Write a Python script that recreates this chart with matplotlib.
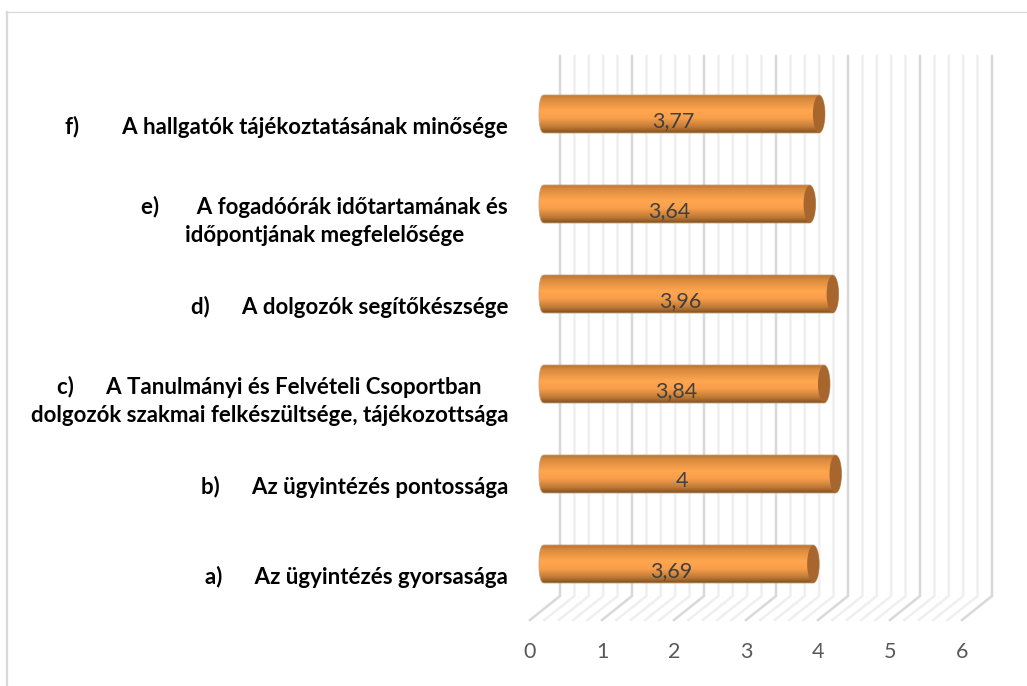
import numpy as np
import matplotlib
matplotlib.use("Agg")
import matplotlib.pyplot as plt
from matplotlib.colors import LinearSegmentedColormap
from matplotlib.lines import Line2D
from matplotlib.patches import Polygon, Ellipse

labels = [
    "a)      Az ügyintézés gyorsasága",
    "b)      Az ügyintézés pontossága",
    "c)      A Tanulmányi és Felvételi Csoportban\ndolgozók szakmai felkészültsége, tájékozottsága",
    "d)      A dolgozók segítőkészsége",
    "e)       A fogadóórák időtartamának és\nidőpontjának megfelelősége",
    "f)        A hallgatók tájékoztatásának minősége",
]
values = [3.69, 4, 3.84, 3.96, 3.64, 3.77]
value_labels = ["3,69", "4", "3,84", "3,96", "3,64", "3,77"]
xticks = [0, 1, 2, 3, 4, 5, 6]

W, H = 1027, 686
plt.rcParams["font.family"] = ["Lato", "DejaVu Sans"]
fig = plt.figure(figsize=(W / 100, H / 100), dpi=100)
ax = fig.add_axes([530 / W, 1 - 620 / H, 432 / W, 540 / H])
for s in ax.spines.values():
    s.set_visible(False)

# frame of the chart area: only the left and top sides show
fig.add_artist(Line2D([7 / W, 7 / W], [0, 1 - 12 / H], transform=fig.transFigure, color="#D9D9D9", lw=1.6))
fig.add_artist(Line2D([6 / W, 1], [1 - 12 / H, 1 - 12 / H], transform=fig.transFigure, color="#D9D9D9", lw=0.9))

PX_X, PX_Y = 1 / 72, 1 / 90
wall_dx, wall_dy = 30 * PX_X, 24 * PX_Y
mid_dx, mid_dy = wall_dx / 2, wall_dy / 2

# wall and floor gridlines
minor = [t / 5 for t in range(0, 31)]
for t in minor:
    major = abs(t - round(t)) < 1e-6
    col, lw = ("#D9D9D9", 1.8) if major else ("#EFEFEF", 1.8)
    ax.plot([t, t + wall_dx, t + wall_dx], [-0.5, -0.5 + wall_dy, 5.5 + wall_dy], color=col, lw=lw,
            clip_on=False, zorder=1, solid_joinstyle="miter")

cmap = LinearSegmentedColormap.from_list("cyl", [
    (0.0, "#B87433"), (0.12, "#D98A3E"), (0.42, "#FFA64F"), (0.62, "#F99F4B"),
    (0.85, "#BF7A37"), (1.0, "#80501F")])
grad = np.linspace(0, 1, 128).reshape(-1, 1)
half_h = 19 * PX_Y
rx = 6 * PX_X
th = np.linspace(-np.pi / 2, np.pi / 2, 40)

for i, (v, lab) in enumerate(zip(values, value_labels)):
    y = i + mid_dy - 1 * PX_Y
    x0, x1 = mid_dx, v + mid_dx + 2.5 * PX_X
    # left rounded end, body and right end of the cylinder
    right = np.c_[x1 + rx * np.cos(th), y + half_h * np.sin(th)]
    left = np.c_[x0 - rx * np.cos(th[::-1]) ** 0.6, y + half_h * np.sin(th[::-1])]
    poly = Polygon(np.r_[right, left], closed=True, fc="none", ec="#C9A27E", lw=0.6, zorder=3, clip_on=False)
    ax.add_patch(poly)
    im = ax.imshow(grad, extent=[x0 - rx, x1 + rx, y - half_h, y + half_h], cmap=cmap, vmin=0, vmax=1,
                   aspect="auto", origin="upper", zorder=2.5, interpolation="bilinear")
    im.set_clip_path(poly)
    ax.add_patch(Ellipse((x1, y), 2 * rx, 2 * half_h * 0.98, fc="#A6662E", ec="none", zorder=4))
    ax.annotate(lab, (v / 2 + mid_dx, y), xytext=(-5, -5), textcoords="offset points",
                ha="center", va="center", color="#404040", fontsize=15.5, zorder=5)

ax.set_xlim(0, 6)
ax.set_ylim(-0.5, 5.5)
ax.set_xticks(xticks)
ax.set_xticklabels([str(t) for t in xticks])
ax.set_yticks(range(len(labels)))
ax.set_yticklabels(labels)
ax.tick_params(axis="x", length=0, pad=16, labelsize=15.5, labelcolor="#595959")
ax.tick_params(axis="y", length=0, pad=15.8, labelsize=16, labelcolor="black")
for t in ax.get_yticklabels():
    t.set_fontweight("bold")
    t.set_multialignment("center")
    t.set_linespacing(1.45)

fig.savefig("out.png", dpi=100, facecolor="white")
